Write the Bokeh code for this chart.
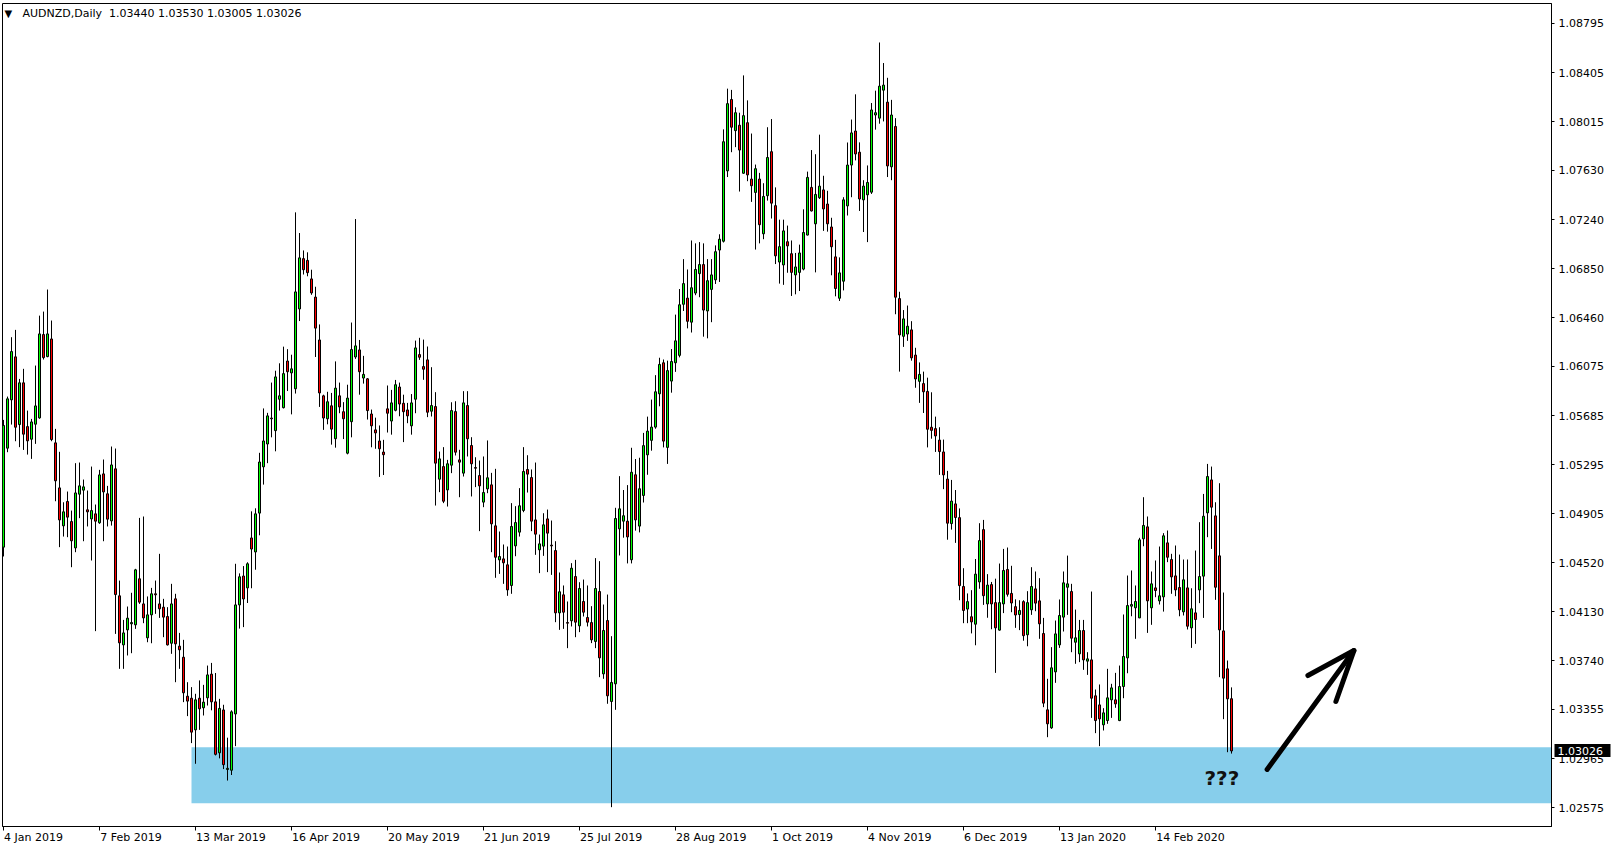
from bokeh.plotting import figure
from bokeh.models import FixedTicker, Label, Range1d, PrintfTickFormatter, ColumnDataSource, LinearAxis
from bokeh.embed import file_html
from bokeh.resources import INLINE

# ---------------- data ----------------
symbol = "AUDNZD"
timeframe = "Daily"

opens = [
    1.04642, 1.05427, 1.05810, 1.06151, 1.05614, 1.05945, 1.05598, 1.05498, 1.05617, 1.05667,
    1.06328, 1.06153, 1.06293, 1.05469, 1.05112, 1.04811, 1.05004, 1.04845, 1.04636, 1.05062,
    1.05094, 1.04938, 1.04866, 1.04906, 1.04835, 1.05223, 1.05065, 1.04850, 1.05263, 1.04256,
    1.03867, 1.03986, 1.04034, 1.04026, 1.04391, 1.04192, 1.03923, 1.04105, 1.04272, 1.04192,
    1.04166, 1.04092, 1.03880, 1.04232, 1.03857, 1.03769, 1.03460, 1.03444, 1.03193, 1.03444,
    1.03368, 1.03447, 1.03635, 1.03415, 1.03011, 1.03351, 1.02879, 1.02873, 1.03319, 1.04184,
    1.04413, 1.04319, 1.04715, 1.04604, 1.04912, 1.05279, 1.05460, 1.05666, 1.05566, 1.05815,
    1.05748, 1.06118, 1.06024, 1.05898, 1.06531, 1.06930, 1.06916, 1.06769, 1.06625, 1.06285,
    1.05842, 1.05660, 1.05763, 1.05502, 1.05842, 1.05716, 1.05387, 1.05637, 1.06150, 1.06206,
    1.05983, 1.05977, 1.05698, 1.05572, 1.05484, 1.05396, 1.05739, 1.05642, 1.05727, 1.05912,
    1.05783, 1.05730, 1.05604, 1.05815, 1.06169, 1.06074, 1.06127, 1.05720, 1.05757, 1.05181,
    1.05281, 1.05096, 1.05292, 1.05717, 1.05334, 1.05229, 1.05765, 1.05448, 1.05273, 1.05210,
    1.04999, 1.05104, 1.05136, 1.04811, 1.04541, 1.04549, 1.04502, 1.04338, 1.04652, 1.04761,
    1.04933, 1.05258, 1.05194, 1.04858, 1.04621, 1.04650, 1.04866, 1.04658, 1.04615, 1.04121,
    1.04264, 1.04044, 1.04058, 1.04409, 1.04018, 1.04211, 1.04084, 1.04044, 1.03894, 1.04290,
    1.03637, 1.04060, 1.03418, 1.03558, 1.04787, 1.04848, 1.04848, 1.04542, 1.05216, 1.04809,
    1.05052, 1.05374, 1.05489, 1.05594, 1.05858, 1.06104, 1.05433, 1.05959, 1.06104, 1.06163,
    1.06568, 1.06617, 1.06426, 1.06657, 1.06811, 1.06883, 1.06515, 1.06686, 1.06762, 1.06998,
    1.07068, 1.07626, 1.08192, 1.07945, 1.07988, 1.07607, 1.08008, 1.07561, 1.07455, 1.07561,
    1.07127, 1.07429, 1.07778, 1.07350, 1.06903, 1.06880, 1.07064, 1.06969, 1.06801, 1.06821,
    1.06847, 1.07117, 1.07495, 1.07206, 1.07413, 1.07475, 1.07363, 1.07181, 1.06944, 1.06616,
    1.06751, 1.07348, 1.07672, 1.07942, 1.07774, 1.07396, 1.07436, 1.07457, 1.08069, 1.08044,
    1.08266, 1.08171, 1.07658, 1.07978, 1.06613, 1.06314, 1.06332, 1.06365, 1.06165, 1.05957,
    1.05939, 1.05877, 1.05593, 1.05582, 1.05491, 1.05397, 1.05182, 1.04829, 1.04985, 1.04876,
    1.04330, 1.04151, 1.04090, 1.04031, 1.04366, 1.04781, 1.04192, 1.04345, 1.04202, 1.03984,
    1.04192, 1.04465, 1.04275, 1.04170, 1.04108, 1.04210, 1.03947, 1.04145, 1.04311, 1.04216,
    1.03957, 1.03352, 1.03209, 1.03653, 1.03867, 1.04087, 1.04324, 1.04290, 1.03888, 1.03796,
    1.03981, 1.03738, 1.03748, 1.03463, 1.03391, 1.03233, 1.03267, 1.03431, 1.03431, 1.03267,
    1.03537, 1.03764, 1.04174, 1.04161, 1.04081, 1.04708, 1.04803, 1.04161, 1.04319, 1.04216,
    1.04248, 1.04676, 1.04544, 1.04414, 1.04322, 1.04129, 1.04319, 1.04002, 1.04121, 1.04303,
    1.04412, 1.04914, 1.05175, 1.04890, 1.04573, 1.03978, 1.03677, 1.03440,
]

highs = [
    1.05651, 1.05836, 1.06307, 1.06365, 1.05976, 1.06056, 1.05725, 1.05659, 1.06082, 1.06478,
    1.06510, 1.06685, 1.06439, 1.05580, 1.05398, 1.04998, 1.05083, 1.04932, 1.05308, 1.05313,
    1.05178, 1.05091, 1.05281, 1.04980, 1.05255, 1.05337, 1.05128, 1.05440, 1.05424, 1.04377,
    1.04065, 1.04171, 1.04280, 1.04470, 1.04874, 1.04885, 1.04251, 1.04319, 1.04377, 1.04589,
    1.04232, 1.04166, 1.04351, 1.04272, 1.03962, 1.03907, 1.03571, 1.03532, 1.03479, 1.03585,
    1.03550, 1.03703, 1.03724, 1.03644, 1.03439, 1.03392, 1.03131, 1.03348, 1.04510, 1.04434,
    1.04492, 1.04522, 1.04926, 1.04950, 1.05390, 1.05742, 1.05707, 1.05947, 1.06041, 1.06100,
    1.06232, 1.06212, 1.06168, 1.07297, 1.07133, 1.06995, 1.06980, 1.06842, 1.06707, 1.06408,
    1.05851, 1.05874, 1.05865, 1.06115, 1.05947, 1.05792, 1.05930, 1.06423, 1.07244, 1.06285,
    1.06159, 1.05983, 1.05733, 1.05669, 1.05607, 1.05493, 1.05924, 1.05889, 1.05968, 1.05947,
    1.05851, 1.05786, 1.05856, 1.06280, 1.06302, 1.06288, 1.06233, 1.06069, 1.05871, 1.05400,
    1.05435, 1.05334, 1.05791, 1.05799, 1.05414, 1.05879, 1.05879, 1.05514, 1.05355, 1.05329,
    1.05361, 1.05488, 1.05231, 1.05263, 1.04766, 1.04663, 1.04647, 1.04991, 1.04967, 1.05110,
    1.05435, 1.05371, 1.05258, 1.05313, 1.04742, 1.04911, 1.04940, 1.04853, 1.04689, 1.04441,
    1.04338, 1.04211, 1.04515, 1.04541, 1.04364, 1.04385, 1.04338, 1.04174, 1.04555, 1.04531,
    1.04187, 1.04266, 1.03936, 1.04954, 1.05205, 1.05095, 1.05134, 1.05430, 1.05341, 1.05351,
    1.05548, 1.05677, 1.05812, 1.06006, 1.06144, 1.06130, 1.06121, 1.06213, 1.06486, 1.06689,
    1.06926, 1.06844, 1.07074, 1.07051, 1.07061, 1.07051, 1.06926, 1.06926, 1.07035, 1.07123,
    1.07955, 1.08278, 1.08268, 1.08130, 1.08087, 1.08383, 1.08185, 1.07922, 1.07676, 1.07610,
    1.07528, 1.07972, 1.08037, 1.07495, 1.07239, 1.07239, 1.07192, 1.07074, 1.06975, 1.07041,
    1.07321, 1.07620, 1.07791, 1.07758, 1.07913, 1.07587, 1.07468, 1.07254, 1.07079, 1.06940,
    1.07417, 1.07851, 1.08033, 1.08233, 1.07852, 1.07552, 1.07669, 1.08164, 1.08262, 1.08644,
    1.08481, 1.08364, 1.08189, 1.08044, 1.06667, 1.06522, 1.06558, 1.06434, 1.06223, 1.06107,
    1.06034, 1.05986, 1.05870, 1.05677, 1.05593, 1.05495, 1.05247, 1.05175, 1.05095, 1.04949,
    1.04475, 1.04275, 1.04301, 1.04548, 1.04832, 1.04858, 1.04428, 1.04366, 1.04392, 1.04512,
    1.04628, 1.04639, 1.04494, 1.04228, 1.04221, 1.04221, 1.04293, 1.04483, 1.04449, 1.04396,
    1.04081, 1.03598, 1.03849, 1.04060, 1.04227, 1.04449, 1.04575, 1.04351, 1.04147, 1.04065,
    1.04065, 1.03809, 1.04290, 1.03513, 1.03553, 1.03365, 1.03677, 1.03558, 1.03645, 1.03703,
    1.04108, 1.04417, 1.04457, 1.04338, 1.04716, 1.05038, 1.04885, 1.04449, 1.04536, 1.04647,
    1.04753, 1.04774, 1.04589, 1.04655, 1.04583, 1.04544, 1.04544, 1.04316, 1.04615, 1.04840,
    1.05064, 1.05302, 1.05281, 1.04998, 1.05149, 1.04282, 1.03743, 1.03530,
]

lows = [
    1.04568, 1.05395, 1.05614, 1.05482, 1.05435, 1.05413, 1.05376, 1.05342, 1.05461, 1.05660,
    1.06130, 1.06148, 1.05482, 1.05006, 1.04642, 1.04726, 1.04721, 1.04483, 1.04602, 1.04872,
    1.04689, 1.04806, 1.04536, 1.03976, 1.04827, 1.04689, 1.04806, 1.04813, 1.03954, 1.03677,
    1.03677, 1.03783, 1.03801, 1.03994, 1.04192, 1.04039, 1.03888, 1.03880, 1.04113, 1.04081,
    1.03928, 1.03862, 1.03796, 1.03571, 1.03677, 1.03413, 1.03302, 1.03088, 1.02924, 1.03193,
    1.03307, 1.03386, 1.03348, 1.02990, 1.02967, 1.02882, 1.02791, 1.02835, 1.03064, 1.03996,
    1.04008, 1.04199, 1.04316, 1.04463, 1.04736, 1.05138, 1.05308, 1.05513, 1.05402, 1.05725,
    1.05742, 1.05880, 1.05695, 1.05860, 1.06435, 1.06804, 1.06790, 1.06643, 1.06150, 1.05754,
    1.05572, 1.05616, 1.05455, 1.05431, 1.05704, 1.05499, 1.05378, 1.05513, 1.06135, 1.05851,
    1.05939, 1.05654, 1.05434, 1.05422, 1.05199, 1.05214, 1.05551, 1.05534, 1.05719, 1.05680,
    1.05475, 1.05625, 1.05534, 1.05704, 1.06127, 1.05969, 1.05673, 1.05678, 1.04972, 1.05078,
    1.04991, 1.04964, 1.05229, 1.05369, 1.05038, 1.05202, 1.05361, 1.05044, 1.05118, 1.04769,
    1.04959, 1.05070, 1.04602, 1.04399, 1.04430, 1.04351, 1.04256, 1.04272, 1.04570, 1.04726,
    1.04919, 1.05075, 1.04769, 1.04581, 1.04436, 1.04573, 1.04444, 1.04422, 1.04047, 1.03986,
    1.03994, 1.03841, 1.04013, 1.03928, 1.03968, 1.04092, 1.04013, 1.03881, 1.03841, 1.03611,
    1.03598, 1.03400, 1.02580, 1.03352, 1.04576, 1.04717, 1.04513, 1.04513, 1.04773, 1.04759,
    1.04996, 1.05216, 1.05407, 1.05581, 1.05759, 1.05433, 1.05302, 1.05867, 1.06032, 1.06147,
    1.06515, 1.06377, 1.06344, 1.06640, 1.06624, 1.06311, 1.06298, 1.06426, 1.06729, 1.06745,
    1.07058, 1.07577, 1.07774, 1.07814, 1.07462, 1.07603, 1.07544, 1.07380, 1.07002, 1.07051,
    1.07084, 1.07390, 1.07248, 1.06887, 1.06732, 1.06722, 1.06818, 1.06634, 1.06647, 1.06673,
    1.06837, 1.07114, 1.07304, 1.06821, 1.07403, 1.07150, 1.07144, 1.06798, 1.06631, 1.06594,
    1.06678, 1.07272, 1.07417, 1.07709, 1.07308, 1.07141, 1.07061, 1.07443, 1.07953, 1.08000,
    1.08018, 1.07577, 1.07552, 1.06489, 1.06034, 1.06230, 1.06278, 1.06121, 1.05906, 1.05786,
    1.05706, 1.05433, 1.05502, 1.05397, 1.05215, 1.05102, 1.04701, 1.04781, 1.04676, 1.04221,
    1.04039, 1.04039, 1.03958, 1.03864, 1.04312, 1.04184, 1.04082, 1.03991, 1.03645, 1.03980,
    1.04119, 1.04250, 1.04126, 1.04002, 1.03984, 1.03900, 1.03856, 1.04105, 1.04134, 1.03915,
    1.03373, 1.03135, 1.03201, 1.03566, 1.03843, 1.03973, 1.04105, 1.03809, 1.03717, 1.03730,
    1.03669, 1.03629, 1.03288, 1.03167, 1.03064, 1.03188, 1.03241, 1.03288, 1.03368, 1.03262,
    1.03444, 1.03642, 1.04094, 1.03915, 1.04079, 1.04649, 1.03962, 1.04026, 1.04245, 1.04187,
    1.04131, 1.04523, 1.04272, 1.04253, 1.04094, 1.04100, 1.03989, 1.03843, 1.03875, 1.04198,
    1.04081, 1.04721, 1.04628, 1.04224, 1.03611, 1.03278, 1.03016, 1.03005,
]

closes = [
    1.05607, 1.05818, 1.06193, 1.05593, 1.05945, 1.05538, 1.05485, 1.05635, 1.05762, 1.06333,
    1.06145, 1.06333, 1.05495, 1.05168, 1.04858, 1.04922, 1.04880, 1.04692, 1.05072, 1.05128,
    1.05120, 1.04922, 1.04932, 1.04848, 1.05215, 1.05080, 1.04864, 1.05294, 1.04266, 1.03883,
    1.03962, 1.04079, 1.04044, 1.04462, 1.04206, 1.04081, 1.04105, 1.04272, 1.04264, 1.04153,
    1.04087, 1.03867, 1.04192, 1.03875, 1.03828, 1.03487, 1.03421, 1.03175, 1.03431, 1.03360,
    1.03413, 1.03629, 1.03415, 1.02999, 1.03363, 1.02917, 1.02888, 1.03336, 1.04184, 1.04407,
    1.04231, 1.04510, 1.04627, 1.04906, 1.05317, 1.05484, 1.05683, 1.05660, 1.05992, 1.05842,
    1.06018, 1.06033, 1.06056, 1.06666, 1.06936, 1.06842, 1.06819, 1.06658, 1.06379, 1.05865,
    1.05666, 1.05795, 1.05578, 1.05903, 1.05754, 1.05660, 1.05824, 1.06209, 1.06238, 1.06033,
    1.06012, 1.05725, 1.05604, 1.05548, 1.05422, 1.05375, 1.05704, 1.05786, 1.05930, 1.05777,
    1.05716, 1.05683, 1.05786, 1.06222, 1.06148, 1.06053, 1.05712, 1.05765, 1.05308, 1.05342,
    1.05006, 1.05303, 1.05725, 1.05395, 1.05316, 1.05786, 1.05501, 1.05303, 1.05268, 1.05128,
    1.05075, 1.05192, 1.04827, 1.04562, 1.04568, 1.04518, 1.04303, 1.04806, 1.04837, 1.04970,
    1.05242, 1.05221, 1.04848, 1.04745, 1.04668, 1.04819, 1.04753, 1.04652, 1.04121, 1.04288,
    1.04126, 1.04039, 1.04475, 1.04047, 1.04314, 1.04126, 1.04047, 1.03907, 1.04314, 1.03764,
    1.03981, 1.03463, 1.03569, 1.04869, 1.04946, 1.04891, 1.04723, 1.05236, 1.04858, 1.05105,
    1.05447, 1.05562, 1.05594, 1.05874, 1.06091, 1.05483, 1.06042, 1.06114, 1.06278, 1.06564,
    1.06732, 1.06433, 1.06699, 1.06844, 1.06883, 1.06522, 1.06755, 1.06801, 1.06985, 1.07084,
    1.07857, 1.08159, 1.07972, 1.08087, 1.07791, 1.08064, 1.07594, 1.07508, 1.07643, 1.07199,
    1.07423, 1.07732, 1.07370, 1.06952, 1.07025, 1.07150, 1.07031, 1.06821, 1.06864, 1.06975,
    1.07137, 1.07574, 1.07308, 1.07439, 1.07505, 1.07324, 1.07206, 1.07024, 1.06693, 1.06817,
    1.07396, 1.07672, 1.07927, 1.07760, 1.07403, 1.07505, 1.07534, 1.08109, 1.08087, 1.08298,
    1.08306, 1.07665, 1.08069, 1.06624, 1.06325, 1.06452, 1.06394, 1.06143, 1.05976, 1.06012,
    1.05874, 1.05577, 1.05568, 1.05524, 1.05400, 1.05215, 1.04832, 1.05007, 1.04877, 1.04337,
    1.04140, 1.04210, 1.04049, 1.04428, 1.04694, 1.04257, 1.04341, 1.04192, 1.04002, 1.04202,
    1.04457, 1.04268, 1.04199, 1.04104, 1.04140, 1.03940, 1.04202, 1.04330, 1.04198, 1.04034,
    1.03405, 1.03241, 1.03685, 1.03954, 1.04100, 1.04359, 1.04351, 1.03920, 1.03923, 1.03981,
    1.03748, 1.03756, 1.03444, 1.03267, 1.03280, 1.03328, 1.03447, 1.03526, 1.03399, 1.03537,
    1.03775, 1.04179, 1.04187, 1.04211, 1.04700, 1.04814, 1.04216, 1.04351, 1.04298, 1.04256,
    1.04732, 1.04562, 1.04406, 1.04303, 1.04145, 1.04383, 1.04015, 1.04153, 1.04068, 1.04409,
    1.04887, 1.05202, 1.04959, 1.04324, 1.03986, 1.03603, 1.03439, 1.03026,
]

date_tick_bars = [0, 24, 48, 72, 96, 120, 144, 168, 192, 216, 240, 264, 288]
date_tick_labels = ["4 Jan 2019", "7 Feb 2019", "13 Mar 2019", "16 Apr 2019", "20 May 2019",
                    "21 Jun 2019", "25 Jul 2019", "28 Aug 2019", "1 Oct 2019", "4 Nov 2019",
                    "6 Dec 2019", "13 Jan 2020", "14 Feb 2020"]
price_ticks = [1.02575, 1.02965, 1.03355, 1.03740, 1.04130, 1.04520, 1.04905, 1.05295, 1.05685,
               1.06075, 1.06460, 1.06850, 1.07240, 1.07630, 1.08015, 1.08405, 1.08795]

# support zone drawn on the chart (start bar, low, high)
zone_start_bar = 47.0
zone_low = 1.02611
zone_high = 1.03056

# ---------------- layout constants ----------------
W, H = 1615, 850
BORDER_L, BORDER_T, BORDER_R, BORDER_B = 2, 3, 64, 24
X_START, X_END = -0.25, 387.0
Y_START, Y_END = 1.024267, 1.089532
PX_PER_BAR = 4.0
FONT = "DejaVu Sans"
BULL = "#00FF00"
BEAR = "#FF0000"

n = len(closes)
xs = list(range(n))
src = ColumnDataSource(dict(
    x=xs, h=highs, l=lows,
    top=[max(o, c) for o, c in zip(opens, closes)],
    bottom=[min(o, c) for o, c in zip(opens, closes)],
    color=[BULL if c >= o else BEAR for o, c in zip(opens, closes)],
))

p = figure(width=W, height=H, x_range=Range1d(X_START, X_END), y_range=Range1d(Y_START, Y_END),
           y_axis_location="right", x_axis_location="below",
           toolbar_location=None, output_backend="svg",
           min_border_left=BORDER_L, min_border_right=BORDER_R,
           min_border_top=BORDER_T, min_border_bottom=BORDER_B,
           background_fill_color="white", border_fill_color="white")
p.xgrid.visible = False
p.ygrid.visible = False
p.outline_line_color = "black"
p.outline_line_width = 1
p.outline_line_alpha = 1.0

# zone
p.quad(left=[zone_start_bar], right=[X_END + 5], bottom=[zone_low], top=[zone_high],
       fill_color="#87CEEB", line_color=None)

# candles
p.segment(x0="x", y0="l", x1="x", y1="h", source=src, line_color="black", line_width=1)
p.vbar(x="x", width=0.5, top="top", bottom="bottom", fill_color="color",
       line_color="black", line_width=1, source=src)

# right price axis
yax = p.yaxis[0]
yax.ticker = FixedTicker(ticks=price_ticks)
yax.formatter = PrintfTickFormatter(format="%.5f")
yax.major_tick_out = 3
yax.major_tick_in = 0
yax.minor_tick_line_color = None
yax.major_label_standoff = 4
yax.axis_line_color = "black"
yax.major_tick_line_color = "black"
yax.major_label_text_font = FONT
yax.major_label_text_font_size = "11px"
yax.major_label_text_color = "black"

# current price tag: a zero-width second price scale stacked after the first one;
# its (only) minor tick is drawn back over the first scale as a black box, and its
# label is pulled back onto that box.
tag = LinearAxis(ticker=FixedTicker(ticks=[closes[-1]], minor_ticks=[closes[-1]]),
                 formatter=PrintfTickFormatter(format="%.5f"))
tag.axis_line_color = None
tag.major_tick_line_color = None
tag.major_tick_out = 0
tag.major_tick_in = 0
tag.minor_tick_line_color = "black"
tag.minor_tick_line_width = 13
tag.minor_tick_line_cap = "butt"
tag.minor_tick_in = 52
tag.minor_tick_out = 4
tag.major_label_standoff = -53
tag.major_label_text_font = FONT
tag.major_label_text_font_size = "11px"
tag.major_label_text_color = "white"
p.add_layout(tag, "right")

# bottom date axis: tick marks at the bars, labels starting at the tick
char_w = {' ': 0.318, 'A': 0.684, 'D': 0.770, 'F': 0.575, 'J': 0.295, 'M': 0.863, 'N': 0.748,
          'O': 0.787, 'a': 0.613, 'b': 0.635, 'c': 0.550, 'e': 0.615, 'g': 0.635, 'l': 0.278,
          'n': 0.634, 'o': 0.612, 'p': 0.635, 'r': 0.411, 't': 0.392, 'u': 0.634, 'v': 0.592,
          'y': 0.592}
centers = []
overrides = {}
for b, lab in zip(date_tick_bars, date_tick_labels):
    wpx = sum(char_w.get(ch, 0.636) for ch in lab) * 11
    c = round(b + (wpx / 2 + 0.5) / PX_PER_BAR, 3)
    centers.append(c)
    overrides[c] = lab
xax = p.xaxis[0]
xax.ticker = FixedTicker(ticks=centers, minor_ticks=date_tick_bars)
xax.major_label_overrides = overrides
xax.major_tick_line_color = None
xax.major_tick_out = 4
xax.major_tick_in = 0
xax.minor_tick_out = 4
xax.minor_tick_in = 0
xax.minor_tick_line_color = "black"
xax.major_label_standoff = 0
xax.axis_line_color = "black"
xax.major_label_text_font = FONT
xax.major_label_text_font_size = "11px"
xax.major_label_text_color = "black"

# annotations: hand-drawn arrow and "???"
arrow_shaft_x, arrow_shaft_y = [315.9, 337.6], [1.02879, 1.03822]
arrow_head_x, arrow_head_y = [326.1, 337.6, 333.1], [1.03624, 1.03822, 1.03418]
p.line(arrow_shaft_x, arrow_shaft_y, line_color="black", line_width=5, line_cap="round")
p.line(arrow_head_x, arrow_head_y, line_color="black", line_width=5, line_cap="round",
       line_join="round")
p.add_layout(Label(x=304.6, y=1.02815, text="???", text_font=FONT, text_font_style="bold",
                   text_font_size="20px", text_color="#111111", text_align="center",
                   text_baseline="middle"))

# header
header = f"{symbol},{timeframe}\u00a0 {opens[-1]:.5f} {highs[-1]:.5f} {lows[-1]:.5f} {closes[-1]:.5f}"
p.add_layout(Label(x=X_START, y=Y_END, x_offset=20, y_offset=-10, text=header, text_font=FONT,
                   text_font_size="11px", text_color="black", text_align="left",
                   text_baseline="middle"))
p.add_layout(Label(x=X_START, y=Y_END, x_offset=2, y_offset=-10, text="\u25bc", text_font=FONT,
                   text_font_size="10px", text_color="black", text_align="left",
                   text_baseline="middle"))

open("out.html", "w").write(file_html(p, INLINE))
